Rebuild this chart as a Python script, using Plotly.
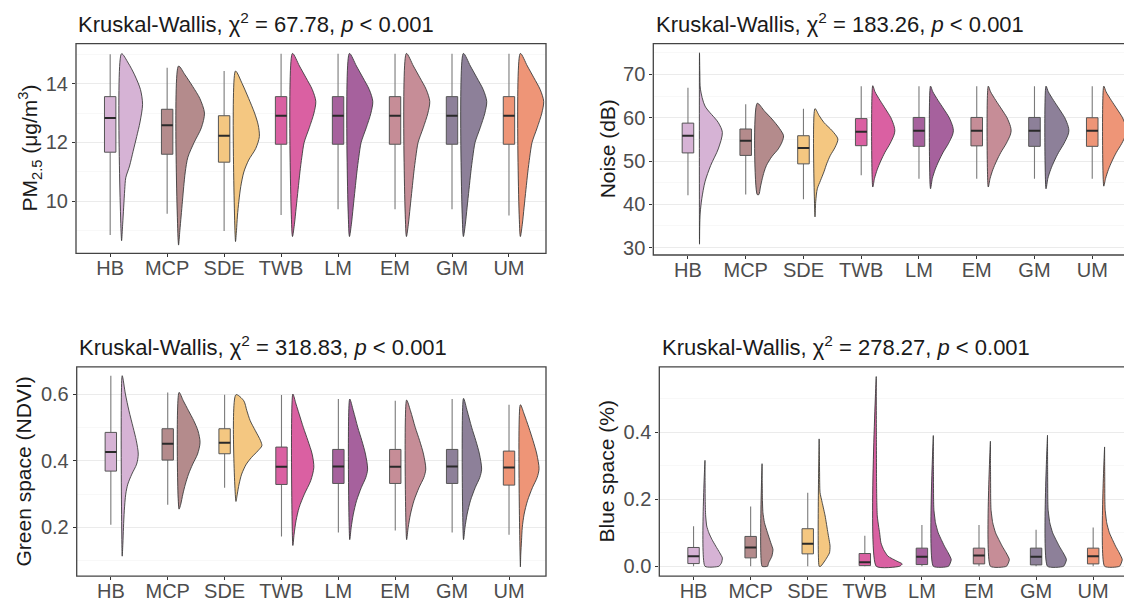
import plotly.graph_objects as go

W, H = 1124, 606
FONT = "Liberation Sans, Arial, sans-serif"

CATEGORIES = ["HB", "MCP", "SDE", "TWB", "LM", "EM", "GM", "UM"]
COLORS = ["#D6B3D5", "#B48B8C", "#F4C781", "#DA60A2", "#A6619D", "#C68D97", "#8D8099", "#EE9577"]

# ---------------- PM2.5 ----------------
pm_lower = [8.85, 9.58, 8.99, 9.53, 9.73, 9.73, 9.73, 9.52]
pm_q1 = [11.67, 11.60, 11.33, 11.94, 11.94, 11.94, 11.94, 11.94]
pm_med = [12.83, 12.59, 12.23, 12.91, 12.91, 12.91, 12.91, 12.91]
pm_q3 = [13.56, 13.13, 12.91, 13.56, 13.56, 13.56, 13.56, 13.56]
pm_upper = [15.0, 14.54, 14.43, 15.02, 15.02, 15.02, 15.02, 15.02]
pm_peak = [0.81, 1.0, 0.92, 0.9, 0.9, 0.9, 0.9, 0.9]
_pm_common_v = [8.8, 9.2, 9.8, 10.4, 11.0, 11.5, 12.0, 12.5, 13.0, 13.4, 13.8, 14.2, 14.6, 15.03]
_pm_common_d = [0, 0.08, 0.16, 0.24, 0.32, 0.4, 0.5, 0.72, 0.92, 1.0, 0.85, 0.58, 0.3, 0]
pm_vy = [
    [8.66, 9.2, 9.8, 10.4, 10.8, 11.2, 11.7, 12.2, 12.7, 13.3, 13.8, 14.3, 14.7, 15.02],
    [8.51, 9.0, 9.5, 10.0, 10.5, 11.0, 11.5, 12.0, 12.5, 13.0, 13.5, 13.9, 14.3, 14.6],
    [8.63, 9.0, 9.5, 10.0, 10.5, 11.0, 11.4, 11.8, 12.2, 12.6, 13.0, 13.5, 14.0, 14.43],
    _pm_common_v, _pm_common_v, _pm_common_v, _pm_common_v, _pm_common_v,
]
pm_vd = [
    [0, 0.05, 0.1, 0.15, 0.2, 0.38, 0.55, 0.72, 0.88, 1.0, 0.9, 0.62, 0.32, 0],
    [0, 0.05, 0.1, 0.15, 0.2, 0.26, 0.36, 0.6, 0.88, 1.0, 0.82, 0.55, 0.25, 0],
    [0, 0.04, 0.08, 0.14, 0.22, 0.35, 0.55, 0.85, 1.0, 0.95, 0.8, 0.55, 0.28, 0],
    _pm_common_d, _pm_common_d, _pm_common_d, _pm_common_d, _pm_common_d,
]

# ---------------- Noise ----------------
no_lower = [42.1, 42.25, 41.2, 46.7, 45.9, 45.9, 45.9, 45.9]
no_q1 = [51.88, 51.3, 49.35, 53.55, 53.4, 53.5, 53.4, 53.4]
no_med = [55.85, 54.7, 53.0, 56.77, 57.0, 57.0, 57.0, 57.0]
no_q3 = [58.76, 57.4, 55.85, 59.8, 60.07, 60.07, 60.07, 60.0]
no_upper = [66.95, 63.1, 62.1, 67.3, 67.3, 67.3, 67.3, 67.3]
no_peak = [0.87, 1.0, 0.87, 0.84, 0.87, 0.87, 0.87, 0.87]
_no_common_d = [0, 0.08, 0.2, 0.36, 0.55, 0.78, 0.96, 1.0, 0.97, 0.82, 0.58, 0.33, 0.1, 0]
no_vy = [
    [30.8, 35, 38, 41.3, 45.2, 49, 52.8, 56.6, 58.9, 62.7, 66.6, 70, 75],
    [42.25, 44, 45.9, 47.5, 49, 51, 52.8, 54.5, 55.85, 57.5, 59.7, 61.5, 63.35],
    [37.1, 40.6, 43.6, 45.5, 47.5, 49.5, 51.3, 53.2, 55.1, 57, 58.9, 60.5, 62.1],
    [44.0, 46, 48, 50, 52, 54, 56, 57, 58, 60, 62, 64, 66, 67.4],
    [43.6, 46, 48, 50, 52, 54, 56, 57, 58, 60, 62, 64, 66, 67.3],
    [44.0, 46, 48, 50, 52, 54, 56, 57, 58, 60, 62, 64, 66, 67.3],
    [43.6, 46, 48, 50, 52, 54, 56, 57, 58, 60, 62, 64, 66, 67.3],
    [44.2, 46, 48, 50, 52, 54, 56, 57, 58, 60, 62, 64, 66, 67.3],
]
no_vd = [
    [0, 0.01, 0.03, 0.1, 0.24, 0.49, 0.82, 1.0, 0.82, 0.24, 0.04, 0.015, 0],
    [0.06, 0.12, 0.19, 0.26, 0.35, 0.55, 0.8, 0.95, 1.0, 0.85, 0.56, 0.28, 0],
    [0, 0.03, 0.1, 0.24, 0.39, 0.52, 0.67, 0.88, 1.0, 0.75, 0.39, 0.18, 0],
    _no_common_d, _no_common_d, _no_common_d, _no_common_d, _no_common_d,
]

# ---------------- Green space ----------------
gr_lower = [0.208, 0.268, 0.319, 0.173, 0.185, 0.191, 0.185, 0.178]
gr_q1 = [0.369, 0.402, 0.421, 0.329, 0.332, 0.332, 0.332, 0.327]
gr_med = [0.426, 0.451, 0.454, 0.382, 0.383, 0.382, 0.383, 0.380]
gr_q3 = [0.485, 0.496, 0.496, 0.441, 0.434, 0.434, 0.434, 0.429]
gr_upper = [0.655, 0.605, 0.598, 0.597, 0.585, 0.580, 0.585, 0.568]
gr_peak = [0.62, 0.81, 1.0, 0.81, 0.69, 0.74, 0.70, 0.72]
_gr_common_d = [0, 0.08, 0.2, 0.38, 0.65, 0.9, 1.0, 0.88, 0.68, 0.45, 0.2, 0]
gr_vy = [
    [0.114, 0.15, 0.2, 0.25, 0.3, 0.33, 0.36, 0.39, 0.42, 0.46, 0.5, 0.55, 0.6, 0.655],
    [0.255, 0.27, 0.3, 0.33, 0.36, 0.39, 0.42, 0.455, 0.49, 0.52, 0.55, 0.58, 0.605],
    [0.278, 0.3, 0.33, 0.36, 0.39, 0.41, 0.43, 0.445, 0.46, 0.49, 0.52, 0.55, 0.58, 0.598],
    [0.146, 0.18, 0.22, 0.26, 0.3, 0.34, 0.38, 0.42, 0.46, 0.5, 0.54, 0.57, 0.6],
    [0.1635, 0.2, 0.24, 0.28, 0.32, 0.35, 0.375, 0.42, 0.46, 0.5, 0.55, 0.585],
    [0.1635, 0.2, 0.24, 0.28, 0.32, 0.35, 0.375, 0.42, 0.46, 0.5, 0.55, 0.582],
    [0.1635, 0.2, 0.24, 0.28, 0.32, 0.35, 0.375, 0.42, 0.46, 0.5, 0.55, 0.587],
    [0.082, 0.12, 0.16, 0.2, 0.24, 0.28, 0.32, 0.35, 0.376, 0.42, 0.46, 0.5, 0.54, 0.568],
]
gr_vd = [
    [0, 0.04, 0.08, 0.13, 0.22, 0.35, 0.6, 0.9, 1.0, 0.88, 0.68, 0.42, 0.2, 0],
    [0, 0.08, 0.18, 0.3, 0.45, 0.65, 0.88, 1.0, 0.9, 0.7, 0.45, 0.2, 0],
    [0, 0.05, 0.12, 0.22, 0.4, 0.6, 0.85, 1.0, 0.95, 0.75, 0.55, 0.42, 0.3, 0],
    [0, 0.06, 0.15, 0.3, 0.55, 0.85, 1.0, 0.92, 0.72, 0.5, 0.3, 0.15, 0],
    _gr_common_d, _gr_common_d, _gr_common_d,
    [0, 0.02, 0.06, 0.1, 0.2, 0.38, 0.65, 0.9, 1.0, 0.88, 0.68, 0.45, 0.2, 0],
]

# ---------------- Blue space ----------------
bl_lower = [0, 0, 0, 0, 0, 0, 0, 0]
bl_q1 = [0.008, 0.025, 0.037, 0.002, 0.005, 0.007, 0.004, 0.007]
bl_med = [0.030, 0.056, 0.067, 0.012, 0.028, 0.032, 0.028, 0.030]
bl_q3 = [0.056, 0.089, 0.112, 0.038, 0.054, 0.054, 0.054, 0.054]
bl_upper = [0.119, 0.178, 0.219, 0.091, 0.123, 0.123, 0.109, 0.116]
bl_peak = [0.67, 0.42, 0.42, 1.0, 0.69, 0.73, 0.73, 0.68]
_bl_common_d = [0.85, 1.0, 0.83, 0.62, 0.44, 0.27, 0.12, 0.03, 0.015, 0.01, 0.005, 0]
bl_vy = [
    [0, 0.01, 0.025, 0.04, 0.06, 0.08, 0.1, 0.12, 0.15, 0.17, 0.2, 0.25, 0.316],
    [0, 0.01, 0.03, 0.05, 0.07, 0.1, 0.13, 0.16, 0.2, 0.25, 0.306],
    [0, 0.02, 0.04, 0.06, 0.1, 0.15, 0.19, 0.22, 0.28, 0.33, 0.38],
    [0, 0.007, 0.015, 0.03, 0.05, 0.07, 0.1, 0.12, 0.15, 0.2, 0.25, 0.4, 0.566],
    [0, 0.02, 0.04, 0.06, 0.08, 0.1, 0.13, 0.17, 0.2, 0.25, 0.3, 0.39],
    [0, 0.02, 0.04, 0.06, 0.08, 0.1, 0.13, 0.17, 0.2, 0.25, 0.3, 0.373],
    [0, 0.02, 0.04, 0.06, 0.08, 0.1, 0.13, 0.17, 0.2, 0.25, 0.3, 0.391],
    [0, 0.02, 0.04, 0.06, 0.08, 0.1, 0.13, 0.17, 0.2, 0.25, 0.3, 0.356],
]
bl_vd = [
    [0.8, 0.95, 1.0, 0.85, 0.62, 0.4, 0.22, 0.1, 0.04, 0.025, 0.012, 0.006, 0],
    [0.5, 0.6, 0.9, 1.0, 0.8, 0.5, 0.22, 0.08, 0.03, 0.015, 0],
    [0.15, 0.6, 0.95, 1.0, 0.8, 0.55, 0.28, 0.08, 0.04, 0.025, 0],
    [0.9, 1.0, 0.8, 0.45, 0.28, 0.18, 0.13, 0.09, 0.04, 0.02, 0.012, 0.006, 0],
    _bl_common_d, _bl_common_d, _bl_common_d, _bl_common_d,
]

TITLES = [
    "Kruskal-Wallis, χ<sup>2</sup> = 67.78, <i>p</i> &lt; 0.001",
    "Kruskal-Wallis, χ<sup>2</sup> = 183.26, <i>p</i> &lt; 0.001",
    "Kruskal-Wallis, χ<sup>2</sup> = 318.83, <i>p</i> &lt; 0.001",
    "Kruskal-Wallis, χ<sup>2</sup> = 278.27, <i>p</i> &lt; 0.001",
]
Y_TITLES = [
    "PM<sub>2.5</sub> (μg/m<sup>3</sup>)",
    "Noise (dB)",
    "Green space (NDVI)",
    "Blue space (%)",
]

# ---------------- layout constants (pixels) ----------------
panels = [
    dict(stats=(pm_lower, pm_q1, pm_med, pm_q3, pm_upper), peak=pm_peak, vy=pm_vy, vd=pm_vd,
         xpx=(76, 546), ypx=(44, 255), xr=[0.4, 8.65], yr=[8.23, 15.36], dtick=2, minor=1, fmt="",
         ytx=30, tx=76, ty=23, full=True, smooth=0.8),
    dict(stats=(no_lower, no_q1, no_med, no_q3, no_upper), peak=no_peak, vy=no_vy, vd=no_vd,
         xpx=(653.3, 1124), ypx=(44, 256.7), xr=[0.4, 8.55], yr=[28.3, 77.1], dtick=10, minor=5, fmt="",
         ytx=607, tx=654, ty=23, full=False, smooth=0.8),
    dict(stats=(gr_lower, gr_q1, gr_med, gr_q3, gr_upper), peak=gr_peak, vy=gr_vy, vd=gr_vd,
         xpx=(76.7, 546), ypx=(369.3, 580), xr=[0.4, 8.65], yr=[0.054, 0.6815], dtick=0.2, minor=0.1, fmt=".1f",
         ytx=24, tx=77, ty=348, full=True, smooth=0.8),
    dict(stats=(bl_lower, bl_q1, bl_med, bl_q3, bl_upper), peak=bl_peak, vy=bl_vy, vd=bl_vd,
         xpx=(659.3, 1124), ypx=(369.3, 580), xr=[0.4, 8.54], yr=[-0.0296, 0.595], dtick=0.2, minor=0.1, fmt=".1f",
         ytx=607, tx=660, ty=348, full=False, smooth=0.5),
]

BOX_HALF = 0.1
VIOLIN_OFFSET = 0.2
VIOLIN_MAX = 0.455

fig = go.Figure()
layout = dict(
    width=W, height=H, margin=dict(l=0, r=0, t=0, b=0),
    paper_bgcolor="white", plot_bgcolor="white", showlegend=False,
    font=dict(family=FONT), annotations=[], shapes=[],
)

for i, p in enumerate(panels):
    k = "" if i == 0 else str(i + 1)
    xa, ya = "x" + k, "y" + k
    lower, q1, med, q3, upper = p["stats"]
    for j, cat in enumerate(CATEGORIES):
        pos = j + 1
        col = COLORS[j]
        # whiskers
        fig.add_trace(go.Scatter(
            x=[pos, pos, None, pos, pos], y=[lower[j], q1[j], None, q3[j], upper[j]],
            mode="lines", line=dict(color="#7a7a7a", width=1.1), xaxis=xa, yaxis=ya, hoverinfo="skip"))
        # box
        fig.add_trace(go.Scatter(
            x=[pos - BOX_HALF, pos + BOX_HALF, pos + BOX_HALF, pos - BOX_HALF, pos - BOX_HALF],
            y=[q1[j], q1[j], q3[j], q3[j], q1[j]],
            mode="lines", fill="toself", fillcolor=col, line=dict(color="#555555", width=1),
            xaxis=xa, yaxis=ya, hoverinfo="skip"))
        # median
        fig.add_trace(go.Scatter(
            x=[pos - BOX_HALF, pos + BOX_HALF], y=[med[j], med[j]],
            mode="lines", line=dict(color="#2a2a2a", width=2), xaxis=xa, yaxis=ya, hoverinfo="skip"))
        # half violin
        base = pos + VIOLIN_OFFSET
        vy, vd = p["vy"][j], p["vd"][j]
        w = VIOLIN_MAX * p["peak"][j]
        xs, ys = [], []
        if vd[0] > 0:
            xs.append(base); ys.append(vy[0])
        for v, d in zip(vy, vd):
            xs.append(base + w * d); ys.append(v)
        if vd[-1] > 0:
            xs.append(base); ys.append(vy[-1])
        xs.append(xs[0]); ys.append(ys[0])
        fig.add_trace(go.Scatter(
            x=xs, y=ys, mode="lines", fill="toself", fillcolor=col,
            line=dict(color="#3c3c3c", width=0.9, shape="spline", smoothing=p["smooth"]),
            xaxis=xa, yaxis=ya, hoverinfo="skip"))

    x0, x1 = p["xpx"]
    y0, y1 = p["ypx"]
    layout["xaxis" + k] = dict(
        domain=[x0 / W, x1 / W], range=p["xr"], anchor=ya,
        tickmode="array", tickvals=list(range(1, 9)), ticktext=CATEGORIES,
        showgrid=False, zeroline=False, showline=False,
        ticks="outside", ticklen=3, tickwidth=1, tickcolor="#333333", ticklabelstandoff=-6,
        tickfont=dict(family=FONT, size=20, color="#4d4d4d"), fixedrange=True)
    layout["yaxis" + k] = dict(
        domain=[1 - y1 / H, 1 - y0 / H], range=p["yr"], anchor=xa,
        tick0=0, dtick=p["dtick"], tickformat=p["fmt"],
        showgrid=True, gridcolor="#ebebeb", gridwidth=1, zeroline=False, showline=False,
        minor=dict(dtick=p["minor"], showgrid=True, gridcolor="#f3f3f3", gridwidth=0.6),
        ticks="outside", ticklen=3, tickwidth=1, tickcolor="#333333",
        tickfont=dict(family=FONT, size=20, color="#4d4d4d"), fixedrange=True)
    # frame
    layout["shapes"].append(dict(
        type="rect", xref="paper", yref="paper",
        x0=x0 / W, x1=(x1 / W) if p["full"] else 1.05, y0=1 - y1 / H, y1=1 - y0 / H,
        line=dict(color="#444444", width=1.3), layer="above"))
    # title
    layout["annotations"].append(dict(
        text=TITLES[i], xref="paper", yref="paper", x=p["tx"] / W, y=1 - p["ty"] / H,
        xanchor="left", yanchor="middle", showarrow=False,
        font=dict(family=FONT, size=22, color="#1a1a1a")))
    # y axis title
    layout["annotations"].append(dict(
        text=Y_TITLES[i], xref="paper", yref="paper", x=p["ytx"] / W, y=1 - (y0 + y1) / 2 / H,
        xanchor="center", yanchor="middle", textangle=-90, showarrow=False,
        font=dict(family=FONT, size=21, color="#1a1a1a")))

fig.update_layout(**layout)
fig.write_html(
    "out.html",
    config={"displayModeBar": False, "staticPlot": True},
    post_script="document.body.style.margin='0';document.body.style.overflow='hidden';"
                "document.documentElement.style.overflow='hidden';",
)
